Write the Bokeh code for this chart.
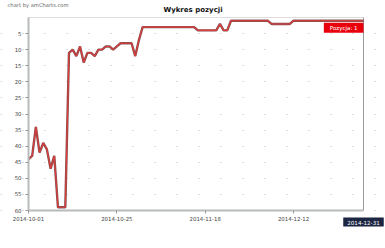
import pandas as pd
from bokeh.plotting import figure
from bokeh.models import (ColumnDataSource, Range1d, FixedTicker, DatetimeTickFormatter,
                          Label)
from bokeh.embed import file_html
from bokeh.resources import INLINE

start_date = "2014-10-01"
end_date = "2014-12-31"
positions = [44, 43, 34, 42, 39, 41, 47, 43, 59, 59, 59,
             11, 10, 12, 9, 14, 11, 11, 12, 10, 10, 9, 9, 10, 9, 8, 8, 8, 8, 12, 7,
             3, 3, 3, 3, 3, 3, 3, 3, 3, 3, 3, 3, 3, 3, 3,
             4, 4, 4, 4, 4, 4,
             2, 4, 4,
             1, 1, 1, 1, 1, 1, 1, 1, 1, 1, 1,
             2, 2, 2, 2, 2, 2,
             1, 1, 1, 1, 1, 1, 1, 1, 1, 1, 1, 1, 1, 1, 1, 1, 1, 1, 1, 1]
x_tick_dates = ["2014-10-01", "2014-10-25", "2014-11-18", "2014-12-12"]
y_ticks = [5, 10, 15, 20, 25, 30, 35, 40, 45, 50, 55, 60]
y_min, y_max = 0, 60
title_text = "Wykres pozycji"
credit_text = "chart by amCharts.com"
balloon_text = "Pozycja: 1"

dates = pd.date_range(start_date, end_date, freq="D")
src = ColumnDataSource(dict(date=dates, pos=positions))

t0 = pd.Timestamp(start_date)
t1 = pd.Timestamp(end_date)

# layout (pixels) of the plotting area inside the 385x248 canvas
W, H = 385, 248
L, R, T, B = 28, 363, 17, 210
day = pd.Timedelta(days=1)
ndays = (t1 - t0) / day
px_day = (R - L) / ndays
px_unit = (B - T) / (y_max - y_min)
x_lo = t0 - day * (L / px_day)
x_hi = t1 + day * ((W - R) / px_day)
y_top = y_min - T / px_unit
y_bot = y_max + (H - B) / px_unit

p = figure(width=W, height=H, output_backend="svg", toolbar_location=None,
           x_axis_type="datetime",
           x_range=Range1d(x_lo, x_hi), y_range=Range1d(y_bot, y_top),
           min_border=0)
p.background_fill_color = "white"
p.border_fill_color = "white"
p.outline_line_color = None

FONT = "DejaVu Sans"

# grid
p.xgrid.visible = False
p.ygrid.ticker = FixedTicker(ticks=y_ticks)
p.ygrid.grid_line_color = "#b8b8b8"
p.ygrid.grid_line_dash = "1 21"
p.ygrid.grid_line_width = 1

# axes
p.xaxis.ticker = FixedTicker(ticks=[pd.Timestamp(d).value / 1e6 for d in x_tick_dates])
p.xaxis.formatter = DatetimeTickFormatter(days="%Y-%m-%d", months="%Y-%m-%d",
                                          hours="%Y-%m-%d", years="%Y-%m-%d")
p.xaxis.fixed_location = y_max
p.xaxis.bounds = (t0, t1)
p.yaxis.ticker = FixedTicker(ticks=y_ticks)
p.yaxis.fixed_location = t0.value / 1e6
p.yaxis.bounds = (y_min, y_max)
for ax in (p.xaxis, p.yaxis):
    ax.axis_line_color = "#b8bcbc"
    ax.axis_line_width = 2
    ax.major_tick_line_color = "#999999"
    ax.major_tick_out = 3
    ax.major_tick_in = 0
    ax.minor_tick_line_color = None
    ax.major_label_text_font = FONT
    ax.major_label_text_font_size = "5.4px"
    ax.major_label_text_color = "#444444"
    ax.major_label_standoff = 4
p.xaxis.major_label_standoff = 3

# frame borders (top) and cursor (right)
p.segment(x0=[t0], y0=[y_min], x1=[t1], y1=[y_min], line_color="#dddddd", line_width=1)
p.segment(x0=[t1], y0=[y_min], x1=[t1], y1=[y_max], line_color="#999999", line_width=1)

# line
p.line("date", "pos", source=src, line_color="#6e3434", line_width=2.4, line_alpha=0.85)
p.line("date", "pos", source=src, line_color="#e03a3a", line_width=1.1)

# titles
p.add_layout(Label(x=W / 2, y=H - 9, x_units="screen", y_units="screen", text=title_text,
                   text_font=FONT, text_font_style="bold", text_font_size="7px",
                   text_align="center", text_baseline="middle", text_color="#111111"))
p.add_layout(Label(x=7, y=H - 4.5, x_units="screen", y_units="screen", text=credit_text,
                   text_font=FONT, text_font_size="5.2px",
                   text_align="left", text_baseline="middle", text_color="#666666"))

# balloons
p.add_layout(Label(x=t1, y=1, text=balloon_text, text_font=FONT, text_font_size="5.5px",
                   text_align="right", text_baseline="top", text_color="white",
                   y_offset=-2,
                   background_fill_color="#e8000b",
                   padding=dict(left=6, right=6, top=2, bottom=2)))
p.add_layout(Label(x=t1, y=H - 221.5, y_units="screen", text=end_date, text_font=FONT,
                   text_font_size="5.6px", text_align="center", text_baseline="middle",
                   text_color="white", background_fill_color="#1c2541",
                   padding=dict(left=4, right=4, top=2, bottom=2)))

open("out.html", "w").write(file_html(p, INLINE))
